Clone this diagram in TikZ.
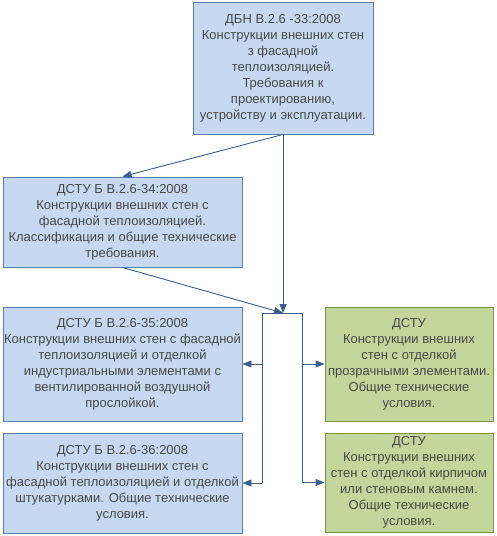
\documentclass[tikz,border=0pt]{standalone}
\usepackage{fontspec}
\setmainfont{Liberation Sans}
\usetikzlibrary{arrows.meta,positioning,calc}
\definecolor{dbnFill}{HTML}{C6D9F1}
\definecolor{dbnLine}{HTML}{5A7DAA}
\definecolor{dstuFill}{HTML}{C3D69B}
\definecolor{dstuLine}{HTML}{7A9445}
\definecolor{linkCol}{HTML}{3C5F8C}
\definecolor{txtCol}{HTML}{484848}
\tikzset{
  stdnode/.style={
    draw, align=center, inner sep=1pt, line width=0.9pt,
    font=\fontsize{13}{16}\selectfont, text=txtCol
  },
  bluebox/.style={stdnode, fill=dbnFill, draw=dbnLine},
  greenbox/.style={stdnode, fill=dstuFill, draw=dstuLine},
  link/.style={-{Triangle[length=9pt,width=7pt]}, line width=0.9pt, linkCol},
  wire/.style={line width=0.9pt, linkCol}
}
\begin{document}
\begin{tikzpicture}[x=1pt,y=-1pt]
  \useasboundingbox (0,0) rectangle (496,536);
  \node[bluebox, minimum width=180pt, minimum height=132pt] (dbn) at (283,68)
    {ДБН В.2.6 -33:2008\\Конструкции внешних стен\\з фасадной\\теплоизоляцией.\\Требования к\\проектированию,\\устройству и эксплуатации.};
  \node[bluebox, minimum width=239pt, minimum height=90pt] (d34) at (122.5,222)
    {ДСТУ Б В.2.6-34:2008\\Конструкции внешних стен с\\фасадной теплоизоляцией.\\Классификация и общие технические\\требования.};
  \node[bluebox, minimum width=239pt, minimum height=114pt] (d35) at (122.5,364)
    {ДСТУ Б В.2.6-35:2008\\Конструкции внешних стен с фасадной\\теплоизоляцией и  отделкой\\индустриальными элементами с\\вентилированной  воздушной\\прослойкой.};
  \node[bluebox, minimum width=239pt, minimum height=100pt] (d36) at (122.5,483)
    {ДСТУ Б В.2.6-36:2008\\Конструкции внешних стен с\\фасадной теплоизоляцией и отделкой\\штукатурками. Общие технические\\условия.};
  \node[greenbox, minimum width=168pt, minimum height=114pt] (g1) at (409,364)
    {ДСТУ\\Конструкции внешних\\стен с отделкой\\прозрачными элементами.\\Общие технические\\условия.};
  \node[greenbox, minimum width=168pt, minimum height=99pt] (g2) at (409,482.5)
    {ДСТУ\\Конструкции внешних\\стен с отделкой кирпичом\\или стеновым камнем.\\Общие технические\\условия.};
  % junction frame
  \coordinate (jtop) at (283,313);
  \coordinate (jl) at (262,313);
  \coordinate (jr) at (302,313);
  \draw[link] (dbn.south) -- (d34.north);
  \draw[link] (dbn.south) -- (jtop);
  \draw[link] (d34.south) -- (jtop);
  \draw[wire] (jl |- d36.east) -- (jl) -- (jr) -- (jr |- g2.west);
  \draw[link] (jl |- d35.east) -- (d35.east);
  \draw[link] (jl |- d36.east) -- (d36.east);
  \draw[link] (jr |- g1.west) -- (g1.west);
  \draw[link] (jr |- g2.west) -- (g2.west);
\end{tikzpicture}
\end{document}
